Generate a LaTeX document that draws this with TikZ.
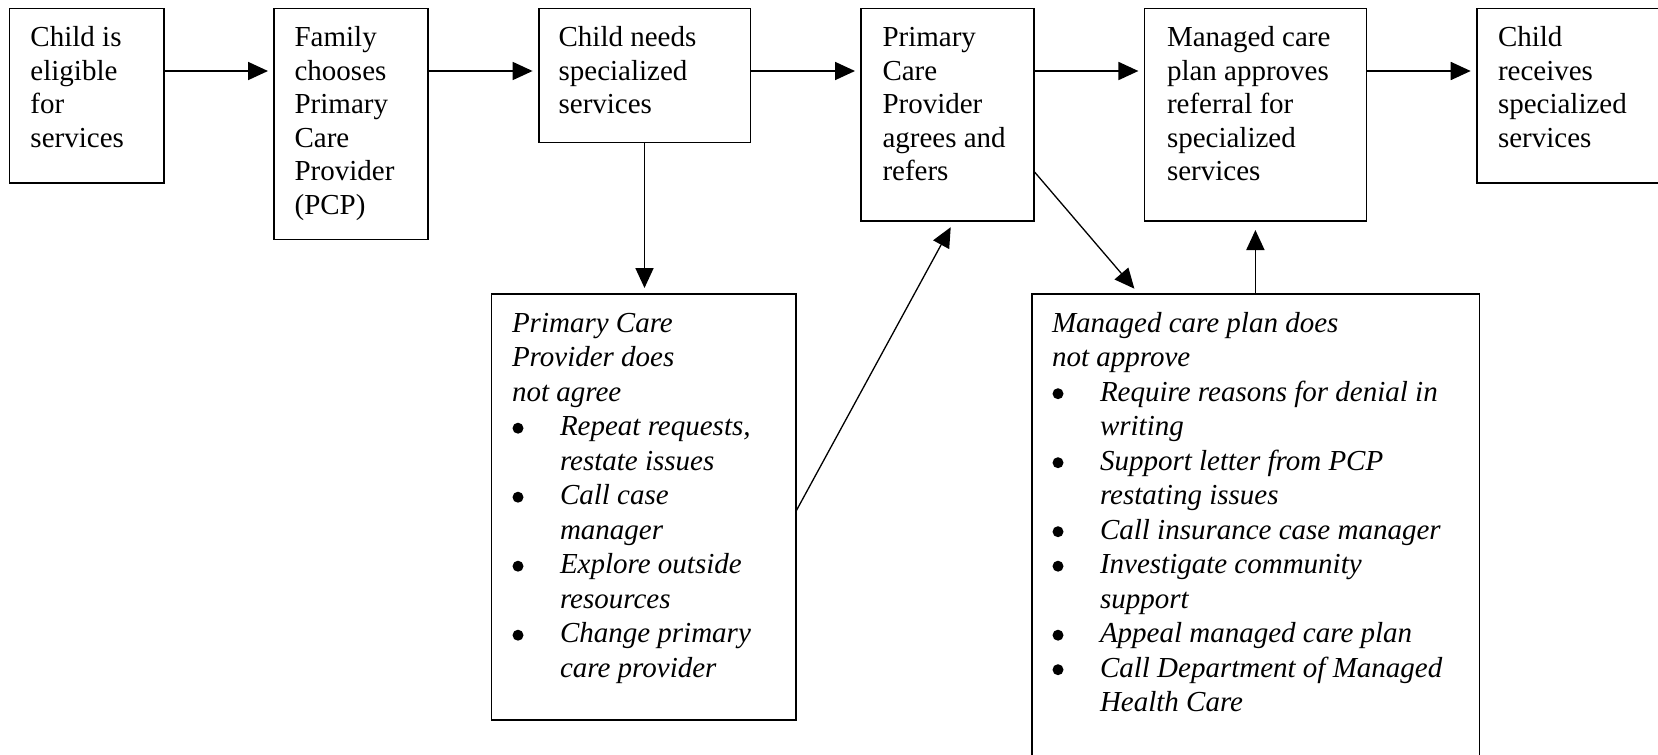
\documentclass[tikz,border=0pt]{standalone}
\usepackage{fontspec}
\setmainfont{Liberation Serif}
\usetikzlibrary{arrows.meta,calc}

% a list bullet followed by the hanging indent of the item text
\newcommand\bul{\makebox[48pt][l]{\hspace{0.5pt}\raisebox{1.8pt}{\tikz\fill (0,0) circle[radius=5.5pt];}}}
% lines of text stacked with a fixed baseline distance; baseline = first line
\newcommand\stacklines[2]{\vtop{\baselineskip=#1\lineskiplimit=-100pt\lineskip=0pt #2}}
\newcommand\tl[1]{\hbox{#1}}

\begin{document}
\begin{tikzpicture}[x=1pt,y=-1pt,
  box/.style={draw, line width=1.8pt, inner sep=0pt, outer sep=0pt, anchor=north west},
  txt/.style={inner sep=0pt, outer sep=0pt, anchor=base west, font=\fontsize{29}{33.5}\selectfont},
  flow/.style={line width=1.8pt, -{Triangle[length=20pt,width=18pt]}, shorten >=6pt},
  slant/.style={line width=1.3pt, -{Triangle[length=20pt,width=18pt]}, shorten >=7pt}
]
\useasboundingbox (0,0) rectangle (1658,755);
\clip (0,0) rectangle (1658,755);

% main row of steps
\node[box, minimum width=154.5pt, minimum height=174.5pt] (b1) at (9.5,8.5) {};
\node[box, minimum width=154pt,   minimum height=231pt]   (b2) at (274,8.5) {};
\node[box, minimum width=211.8pt, minimum height=134pt]   (b3) at (538.6,8.5) {};
\node[box, minimum width=173.3pt, minimum height=212.5pt] (b4) at (861,8.5) {};
\node[box, minimum width=222pt,   minimum height=212.5pt] (b5) at (1144.4,8.5) {};
\node[box, minimum width=230pt,   minimum height=174.5pt] (b6) at (1476.7,8.5) {};

% alternative routes
\node[box, minimum width=304.5pt, minimum height=426pt]   (b7) at (491.5,294) {};
\node[box, minimum width=447.5pt, minimum height=500pt]   (b8) at (1032,294) {};

% texts
\node[txt] (t1) at (30.5,46.7) {\stacklines{33.5pt}{\tl{Child is}\tl{eligible}\tl{for}\tl{services}}};
\node[txt] (t2) at (294.6,46.7) {\stacklines{33.5pt}{\tl{Family}\tl{chooses}\tl{Primary}\tl{Care}\tl{Provider}\tl{(PCP)}}};
\node[txt] (t3) at (558.6,46.7) {\stacklines{33.5pt}{\tl{Child needs}\tl{specialized}\tl{services}}};
\node[txt] (t4) at (882.5,46.7) {\stacklines{33.5pt}{\tl{Primary}\tl{Care}\tl{Provider}\tl{agrees and}\tl{refers}}};
\node[txt] (t5) at (1167,46.7) {\stacklines{33.5pt}{\tl{Managed care}\tl{plan approves}\tl{referral for}\tl{specialized}\tl{services}}};
\node[txt] (t6) at (1498,46.7) {\stacklines{33.5pt}{\tl{Child}\tl{receives}\tl{specialized}\tl{services}}};

\node[txt, font=\fontsize{29}{34.5}\selectfont\itshape] (t7) at (512,332) {\stacklines{34.5pt}{%
  \tl{Primary Care}\tl{Provider does}\tl{not agree}%
  \tl{\bul Repeat requests,}\tl{\hspace{48pt}restate issues}%
  \tl{\bul Call case}\tl{\hspace{48pt}manager}%
  \tl{\bul Explore outside}\tl{\hspace{48pt}resources}%
  \tl{\bul Change primary}\tl{\hspace{48pt}care provider}}};

\node[txt, font=\fontsize{29}{34.5}\selectfont\itshape] (t8) at (1052,332) {\stacklines{34.5pt}{%
  \tl{Managed care plan does}\tl{not approve}%
  \tl{\bul Require reasons for denial in}\tl{\hspace{48pt}writing}%
  \tl{\bul Support letter from PCP}\tl{\hspace{48pt}restating issues}%
  \tl{\bul Call insurance case manager}%
  \tl{\bul Investigate community}\tl{\hspace{48pt}support}%
  \tl{\bul Appeal managed care plan}%
  \tl{\bul Call Department of Managed}\tl{\hspace{48pt}Health Care}}};

% connectors
\coordinate (row) at (0,71);
\draw[flow] (b1.east |- row) -- (b2.west |- row);
\draw[flow] (b2.east |- row) -- (b3.west |- row);
\draw[flow] (b3.east |- row) -- (b4.west |- row);
\draw[flow] (b4.east |- row) -- (b5.west |- row);
\draw[flow] (b5.east |- row) -- (b6.west |- row);

\draw[flow] (b3.south) -- (b3.south |- b7.north);
\draw[slant] ($(b7.north east)!0.51!(b7.south east)$) -- ($(b4.south west)!0.537!(b4.south east)$);
\draw[slant] ($(b4.north east)!0.768!(b4.south east)$) -- ($(b8.north west)!0.239!(b8.north east)$);
\draw[flow, shorten >=9pt] (b5.south |- b8.north) -- (b5.south);
\end{tikzpicture}
\end{document}
